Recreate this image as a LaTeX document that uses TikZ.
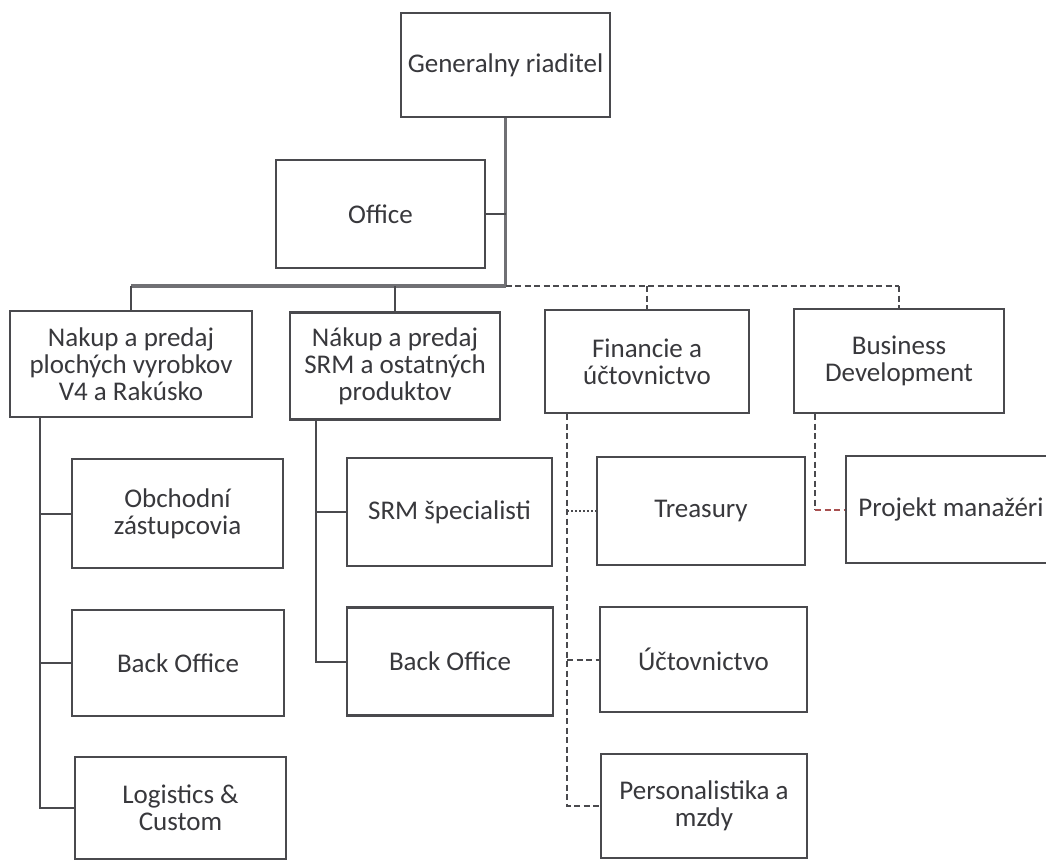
\documentclass[tikz,border=0pt]{standalone}
\usepackage{fontspec}
\setmainfont{Carlito}
\usepackage{tikz}

\definecolor{boxgray}{HTML}{4A4A4E}
\definecolor{textgray}{HTML}{38383C}
\definecolor{busgray}{HTML}{707074}
\definecolor{linkred}{HTML}{A85050}

\begin{document}
\begin{tikzpicture}[x=1pt,y=-1pt,
  orgbox/.style={draw=boxgray,line width=2.2pt,fill=white,align=center,inner sep=0pt,
    text=textgray,font=\fontsize{27}{27}\selectfont},
  link/.style={draw=boxgray,line width=2pt},
  buslink/.style={draw=busgray,line width=3.5pt},
  dashlink/.style={draw=boxgray,line width=2pt,dash pattern=on 6pt off 3.5pt},
  dotlink/.style={draw=boxgray,line width=1.6pt,dash pattern=on 2pt off 2pt}]
\clip (0,0) rectangle (1046,861);
\fill[white] (0,0) rectangle (1046,861);

% top
\node[orgbox,minimum width=209pt,minimum height=104pt] (gen) at (505.5,65) {Generalny riaditel};
\node[orgbox,minimum width=209pt,minimum height=108pt] (office) at (380.5,214) {Office};

% second row
\node[orgbox,minimum width=242pt,minimum height=106pt] (nakup1) at (131,364) {Nakup a predaj\\plochých vyrobkov\\V4 a Rakúsko};
\node[orgbox,minimum width=210pt,minimum height=107pt] (nakup2) at (395,366) {Nákup a predaj\\SRM a ostatných\\produktov};
\node[orgbox,minimum width=204pt,minimum height=103pt] (fin) at (647,361.5) {Financie a\\účtovnictvo};
\node[orgbox,minimum width=210pt,minimum height=104pt] (biz) at (899,361) {Business\\Development};

% children
\node[orgbox,minimum width=211pt,minimum height=109pt] (obch) at (177.5,513.5) {Obchodní\\zástupcovia};
\node[orgbox,minimum width=212pt,minimum height=106pt] (back1) at (178,663) {Back Office};
\node[orgbox,minimum width=211pt,minimum height=102pt] (logi) at (180.5,808) {Logistics \&\\Custom};
\node[orgbox,minimum width=205pt,minimum height=108pt] (srm) at (449.5,512) {SRM špecialisti};
\node[orgbox,minimum width=206pt,minimum height=108pt] (back2) at (450,661.5) {Back Office};
\node[orgbox,minimum width=208pt,minimum height=108pt] (treas) at (701,511) {Treasury};
\node[orgbox,minimum width=207pt,minimum height=105pt] (ucto) at (703.5,659.5) {Účtovnictvo};
\node[orgbox,minimum width=206pt,minimum height=104pt] (pers) at (704,806) {Personalistika a\\mzdy};
\node[orgbox,minimum width=210pt,minimum height=107pt] (proj) at (951,509.5) {Projekt manažéri};

% bus
\coordinate (busl) at (131,286);
\draw[buslink] (gen.south) -- (gen.south |- busl);
\draw[link] (office.east) -- (office.east -| gen.south);
\draw[buslink] (nakup1.north |- busl) -- (gen.south |- busl);
\draw[dashlink] (gen.south |- busl) -- (biz.north |- busl);
\draw[link] (nakup1.north |- busl) -- (nakup1.north);
\draw[link] (nakup2.north |- busl) -- (nakup2.north);
\draw[dashlink] (fin.north |- busl) -- (fin.north);
\draw[dashlink] (biz.north |- busl) -- (biz.north);

% spines
\coordinate (sp1) at (40,0);
\coordinate (sp2) at (316,0);
\coordinate (sp3) at (567,0);
\coordinate (sp4) at (815,0);
\draw[link] (sp1 |- nakup1.south) -- (sp1 |- logi.west) -- (logi.west);
\draw[link] (sp1 |- obch.west) -- (obch.west);
\draw[link] (sp1 |- back1.west) -- (back1.west);
\draw[link] (sp2 |- nakup2.south) -- (sp2 |- back2.west) -- (back2.west);
\draw[link] (sp2 |- srm.west) -- (srm.west);
\draw[dashlink] (sp3 |- fin.south) -- (sp3 |- pers.west) -- (pers.west);
\draw[dotlink] (sp3 |- treas.west) -- (treas.west);
\draw[dashlink] (sp3 |- ucto.west) -- (ucto.west);
\draw[dashlink] (sp4 |- biz.south) -- (sp4 |- proj.west);
\draw[dashlink,draw=linkred] (sp4 |- proj.west) -- (proj.west);
\end{tikzpicture}
\end{document}
